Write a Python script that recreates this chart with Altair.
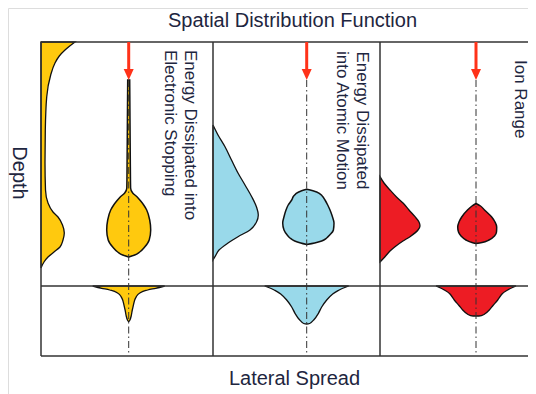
import altair as alt
import pandas as pd

# ---------------- layout (page pixels) ----------------
X_MIN, X_MAX = 8, 528
Y_MIN, Y_MAX = 8, 394
PANEL_LEFT = [41, 213, 380]
FRAME_RIGHT = 530
Y_TOP, Y_MID, Y_BOT = 42, 286, 356
CENTERS = [128.7, 306.7, 476.0]
ARROW_TIP = 80
PANELS = ["Electronic", "Atomic", "Ion"]
COLORS = ["#FFC90E", "#99D9EA", "#ED1C24"]
ARROW_RED = "#FF3219"
LINE = "#333333"
TEXT = "#1e2640"

# ---------------- depth profiles (left of each panel): depth y, width ----------------
dp1_y = [42, 50, 56, 63, 75, 97, 130, 163, 190, 203, 212, 217, 225, 233, 240, 247, 252, 257, 262, 268]
dp1_w = [34, 24, 18.3, 14, 9.7, 5.7, 4.3, 4, 4.5, 7, 12, 17, 21.5, 23.3, 22, 19, 13, 7, 3, 0]

dp2_y = [125, 135, 146.7, 160, 173, 185, 196.7, 207, 215, 222, 230, 236.7, 243, 250, 256.7, 260]
dp2_w = [0, 5, 12, 18.5, 25, 32, 38.7, 43.5, 45.3, 43.5, 37, 25, 15, 6, 2, 0]

dp3_y = [176.7, 183, 190, 197, 203.3, 210, 216.7, 222, 226, 230, 236.7, 241, 246.7, 251, 256.7, 262]
dp3_w = [0, 4, 10, 16.5, 23.3, 29, 35, 39, 40, 38, 30, 23, 15, 10, 5, 0]

# ---------------- 2-D blobs on the ion track: depth y, left / right half widths ----------------
b1_y = [80, 120, 160, 188, 193, 197, 201, 205, 210, 220, 230, 240, 247, 252, 255, 257]
b1_l = [1.0, 1.3, 1.6, 1.9, 4, 8.5, 12, 15, 18, 21, 22, 20.5, 16, 11, 6, 0]
b1_r = [1.0, 1.3, 1.6, 1.9, 4, 8.5, 12, 15, 18, 21, 22, 20.5, 16, 11, 6, 0]

b2_y = [189.3, 192, 196, 200, 205, 210, 216, 223, 230, 235, 238, 241, 243, 244.5]
b2_l = [0, 8, 13, 15, 18.5, 20.7, 22.5, 24, 22.7, 19.5, 16.7, 12, 6, 0]
b2_r = [0, 10, 15.5, 18.3, 21, 23.3, 25.5, 27.3, 26.7, 23, 20, 15, 8, 0]

b3_y = [203.5, 206, 210, 217, 222, 227, 232, 236, 240, 242.5, 243.5]
b3_l = [0, 4, 8.5, 14.3, 17, 18.3, 17.5, 15, 10, 4, 0]
b3_r = [0, 4.5, 8.5, 15.7, 19, 20.7, 20.5, 18.5, 13, 6, 0]

# ---------------- lateral profiles (below the divider): lateral offset, depth ----------------
lp1_o = [-36, -27, -19, -12, -8, -6, -4.5, -3.6, -2.5, -1, 0, 1, 2.5, 3.6, 4.5, 6, 8, 12, 19, 27, 36]
lp1_d = [0, 2.3, 4, 6.5, 10, 14, 20, 24, 30, 34.5, 35.5, 34.5, 30, 24, 20, 14, 10, 6.5, 4, 2.3, 0]

lp2_o = [-42, -32.5, -26, -20, -15, -11.7, -7, -3, 0, 3, 7, 11.7, 15, 20, 26, 32.5, 42]
lp2_d = [0, 4, 8, 14, 21, 27.3, 34, 37.5, 38, 37.5, 34, 27.3, 21, 14, 8, 4, 0]

lp3_o = [-40, -31.7, -26, -21.7, -17, -13.3, -8, -3, 0, 3, 8, 13.3, 17, 21.7, 26, 31.7, 40]
lp3_d = [0, 4, 8, 14, 19.5, 24, 28.5, 30, 30, 30, 28.5, 24, 19.5, 14, 8, 4, 0]

# ---------------- texts ----------------
title_text = "Spatial Distribution Function"
x_title = "Lateral Spread"
y_title = "Depth"
label_lines = ["Energy Dissipated into", "Electronic Stopping",
               "Energy Dissipated", "into Atomic Motion",
               "Ion Range"]
label_x = [190, 170, 361.5, 341.5, 519.5]
label_y = [50, 50, 51.5, 51, 60]

# ---------------- build tables ----------------
xs = alt.Scale(domain=[X_MIN, X_MAX], nice=False, zero=False)
ys = alt.Scale(domain=[Y_MIN, Y_MAX], nice=False, zero=False, reverse=True)
cs = alt.Scale(domain=PANELS, range=COLORS)

rows = []
for i, (yy, ww) in enumerate([(dp1_y, dp1_w), (dp2_y, dp2_w), (dp3_y, dp3_w)]):
    for y, w in zip(yy, ww):
        rows.append({"panel": PANELS[i], "y": y, "x0": PANEL_LEFT[i], "x1": PANEL_LEFT[i] + w})
depth_df = pd.DataFrame(rows)

rows = []
for i, (yy, ll, rr) in enumerate([(b1_y, b1_l, b1_r), (b2_y, b2_l, b2_r), (b3_y, b3_l, b3_r)]):
    for y, l, r in zip(yy, ll, rr):
        rows.append({"panel": PANELS[i], "y": y, "x0": CENTERS[i] - l, "x1": CENTERS[i] + r})
blob_df = pd.DataFrame(rows)

rows = []
for i, (oo, dd) in enumerate([(lp1_o, lp1_d), (lp2_o, lp2_d), (lp3_o, lp3_d)]):
    for o, d in zip(oo, dd):
        rows.append({"panel": PANELS[i], "x": CENTERS[i] + o, "y0": Y_MID, "y1": Y_MID + d})
lat_df = pd.DataFrame(rows)

frame_df = pd.DataFrame([
    {"x": PANEL_LEFT[0], "x2": FRAME_RIGHT, "y": Y_TOP, "y2": Y_TOP},
    {"x": PANEL_LEFT[0], "x2": FRAME_RIGHT, "y": Y_MID, "y2": Y_MID},
    {"x": PANEL_LEFT[0], "x2": FRAME_RIGHT, "y": Y_BOT, "y2": Y_BOT},
    {"x": PANEL_LEFT[0], "x2": PANEL_LEFT[0], "y": Y_TOP, "y2": Y_BOT},
    {"x": PANEL_LEFT[1], "x2": PANEL_LEFT[1], "y": Y_TOP, "y2": Y_BOT},
    {"x": PANEL_LEFT[2], "x2": PANEL_LEFT[2], "y": Y_TOP, "y2": Y_BOT},
])

center_df = pd.DataFrame({"x": CENTERS, "y": [ARROW_TIP] * 3, "y2": [Y_BOT - 2] * 3})
shaft_df = pd.DataFrame({"x": CENTERS, "y": [Y_TOP] * 3, "y2": [ARROW_TIP - 9] * 3})
rows = []
for i, c in enumerate(CENTERS):
    rows.append({"panel": PANELS[i], "y": ARROW_TIP - 11, "x0": c - 5, "x1": c + 5})
    rows.append({"panel": PANELS[i], "y": ARROW_TIP, "x0": c, "x1": c})
head_df = pd.DataFrame(rows)

label_df = pd.DataFrame({"x": label_x, "y": label_y, "t": label_lines})
htext_df = pd.DataFrame({"x": [292.5, 294.5], "y": [26.5, 385], "t": [title_text, x_title]})
ytext_df = pd.DataFrame({"x": [19], "y": [173], "t": [y_title]})

FONT = "Liberation Sans"


def hband(df, **mk):
    return alt.Chart(df).mark_area(orient="horizontal", **mk).encode(
        y=alt.Y("y:Q", scale=ys, axis=None, sort=None),
        x=alt.X("x0:Q", scale=xs, axis=None, stack=None),
        x2="x1:Q",
        color=alt.Color("panel:N", scale=cs, legend=None),
    )


depth_layer = hband(depth_df, interpolate="monotone", stroke="#111111", strokeWidth=1.3)
blob_layer = hband(blob_df, interpolate="monotone", stroke="#111111", strokeWidth=1.5)

lat_layer = alt.Chart(lat_df).mark_area(
    orient="vertical", interpolate="monotone", stroke="#111111", strokeWidth=1.3
).encode(
    x=alt.X("x:Q", scale=xs, axis=None),
    y=alt.Y("y0:Q", scale=ys, axis=None, stack=None),
    y2="y1:Q",
    color=alt.Color("panel:N", scale=cs, legend=None),
)

frame_layer = alt.Chart(frame_df).mark_rule(color=LINE, strokeWidth=1.5).encode(
    x=alt.X("x:Q", scale=xs, axis=None), x2="x2:Q",
    y=alt.Y("y:Q", scale=ys, axis=None), y2="y2:Q",
)

center_layer = alt.Chart(center_df).mark_rule(
    color="#333333", strokeWidth=1, strokeDash=[7, 3, 1.5, 3]
).encode(
    x=alt.X("x:Q", scale=xs, axis=None),
    y=alt.Y("y:Q", scale=ys, axis=None), y2="y2:Q",
)

shaft_layer = alt.Chart(shaft_df).mark_rule(color=ARROW_RED, strokeWidth=3).encode(
    x=alt.X("x:Q", scale=xs, axis=None),
    y=alt.Y("y:Q", scale=ys, axis=None), y2="y2:Q",
)

head_layer = alt.Chart(head_df).mark_area(
    orient="horizontal", interpolate="linear", color=ARROW_RED
).encode(
    y=alt.Y("y:Q", scale=ys, axis=None),
    x=alt.X("x0:Q", scale=xs, axis=None, stack=None),
    x2="x1:Q",
    detail="panel:N",
)

label_layer = alt.Chart(label_df).mark_text(
    angle=90, align="left", baseline="middle", fontSize=17, font=FONT, color=TEXT
).encode(
    x=alt.X("x:Q", scale=xs, axis=None),
    y=alt.Y("y:Q", scale=ys, axis=None),
    text="t:N",
)

htext_layer = alt.Chart(htext_df).mark_text(
    align="center", baseline="alphabetic", fontSize=20, font=FONT, color=TEXT
).encode(
    x=alt.X("x:Q", scale=xs, axis=None),
    y=alt.Y("y:Q", scale=ys, axis=None),
    text="t:N",
)

ytext_layer = alt.Chart(ytext_df).mark_text(
    angle=90, align="center", baseline="middle", fontSize=20, font=FONT, color=TEXT
).encode(
    x=alt.X("x:Q", scale=xs, axis=None),
    y=alt.Y("y:Q", scale=ys, axis=None),
    text="t:N",
)

chart = alt.layer(
    depth_layer, blob_layer, lat_layer, frame_layer, center_layer,
    shaft_layer, head_layer, label_layer, htext_layer, ytext_layer,
).properties(
    width=X_MAX - X_MIN, height=Y_MAX - Y_MIN,
    autosize=alt.AutoSizeParams(type="none"), padding=0,
).configure_view(stroke=None).configure(background="white")

chart.save("out.html", embed_options={"renderer": "svg", "actions": False})
